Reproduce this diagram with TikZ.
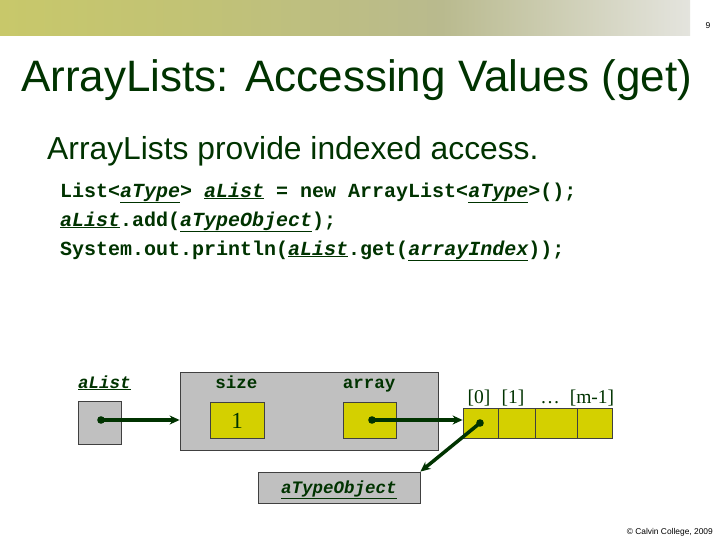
\documentclass[tikz,border=0pt]{standalone}
\usepackage{fontspec}
\setmainfont{Liberation Sans}
\newfontfamily\courf{Liberation Mono}
\newfontfamily\timesf{Liberation Serif}
\usetikzlibrary{arrows.meta}
\definecolor{dkgreen}{RGB}{0,51,0}
\definecolor{boxgrey}{RGB}{192,192,192}
\definecolor{cellyellow}{RGB}{212,208,0}
\definecolor{bA}{RGB}{200,200,106}
\definecolor{bB}{RGB}{193,194,118}
\definecolor{bC}{RGB}{185,186,142}
\definecolor{bD}{RGB}{228,228,222}
\pgfdeclarehorizontalshading{banner}{100bp}{color(0bp)=(bA); color(25bp)=(bA); color(40bp)=(bB); color(57bp)=(bC); color(75bp)=(bD); color(100bp)=(bD)}
\newcommand\uit[1]{\underline{\itshape #1}}
\tikzset{
  title/.style={anchor=base west, inner sep=0, text=dkgreen, font=\fontsize{44}{50}\selectfont},
  subt/.style={anchor=base west, inner sep=0, text=dkgreen, font=\fontsize{31.8}{36}\selectfont},
  code/.style={anchor=base west, inner sep=0, text=dkgreen, font=\courf\bfseries\fontsize{20}{24}\selectfont},
  lbl/.style={anchor=base, inner sep=0, text=dkgreen, font=\courf\bfseries\fontsize{17.5}{20}\selectfont},
  idx/.style={anchor=base, inner sep=0, text=dkgreen, font=\timesf\fontsize{19.5}{22}\selectfont},
  greybox/.style={draw=black!75, line width=0.8pt, fill=boxgrey, inner sep=0},
  yellowbox/.style={draw=black!75, line width=0.8pt, fill=cellyellow, inner sep=0},
  arr/.style={draw=dkgreen, line width=3.5pt, -{Stealth[length=10pt,width=9pt]}},
  dotc/.style={fill=dkgreen},
}
\begin{document}
\begin{tikzpicture}[x=1pt,y=-1pt]
\useasboundingbox (0,0) rectangle (720,540);
\fill[white] (0,0) rectangle (720,540);
% banner
\shade[shading=banner] (0,0) rectangle (690,36);
\node[anchor=base, inner sep=0, font=\fontsize{8.5}{9}\selectfont] (pnum) at (708,29) {9};
% titles
\node[title] (ttl) at (21,92) {ArrayLists: Accessing Values (get)};
\node[subt] (sub) at (47,160) {ArrayLists provide indexed access.};
% code
\node[code] (c1) at (60,197) {List<\uit{aType}> \uit{aList} = new ArrayList<\uit{aType}>();};
\node[code] (c2) at (60,226) {\uit{aList}.add(\uit{aTypeObject});};
\node[code] (c3) at (60,255) {System.out.println(\uit{aList}.get(\uit{arrayIndex}));};
% diagram
\node[lbl, anchor=base west] (lalist) at (78,388) {\uit{aList}};
\node[greybox, minimum width=43, minimum height=43] (alistbox) at (99.5,422.5) {};
\node[greybox, minimum width=258, minimum height=78] (big) at (309,411) {};
\node[lbl] (lsize) at (236.5,388) {size};
\node[lbl] (larray) at (369,388) {array};
\node[yellowbox, minimum width=54, minimum height=36] (sizebox) at (237,420) {};
\node[inner sep=0, font=\timesf\fontsize{23}{26}\selectfont, text=dkgreen] (one) at (237,421) {1};
\node[yellowbox, minimum width=53, minimum height=36] (arrbox) at (369.5,420) {};
% array cells
\node[yellowbox, minimum width=35, minimum height=30] (cell0) at (480.5,423) {};
\node[yellowbox, minimum width=37, minimum height=30] (cell1) at (516.5,423) {};
\node[yellowbox, minimum width=42, minimum height=30] (cell2) at (556,423) {};
\node[yellowbox, minimum width=35, minimum height=30] (cell3) at (594.5,423) {};
\node[idx] (i0) at (479,403) {[0]};
\node[idx] (i1) at (513,403) {[1]};
\node[idx] (i2) at (550,403) {\dots};
\node[idx] (i3) at (592,403) {[m-1]};
% object box
\node[greybox, minimum width=162, minimum height=31] (obj) at (339,487.5) {};
\node[lbl] (lobj) at (339,493) {\uit{aTypeObject}};
% pointers
\coordinate (d1) at (101,420);
\coordinate (d2) at (372,420);
\coordinate (d3) at (480,423);
\draw[arr] (d1) -- (big.west |- d1);
\draw[arr] (d2) -- (cell0.west |- d2);
\draw[arr] (d3) -- (obj.north east);
\fill[dotc] (d1) circle (3.8);
\fill[dotc] (d2) circle (3.8);
\fill[dotc] (d3) circle (3.8);
% copyright
\node[anchor=base east, inner sep=0, font=\fontsize{8.4}{10}\selectfont] (copy) at (713,534) {© Calvin College, 2009};
\end{tikzpicture}
\end{document}
